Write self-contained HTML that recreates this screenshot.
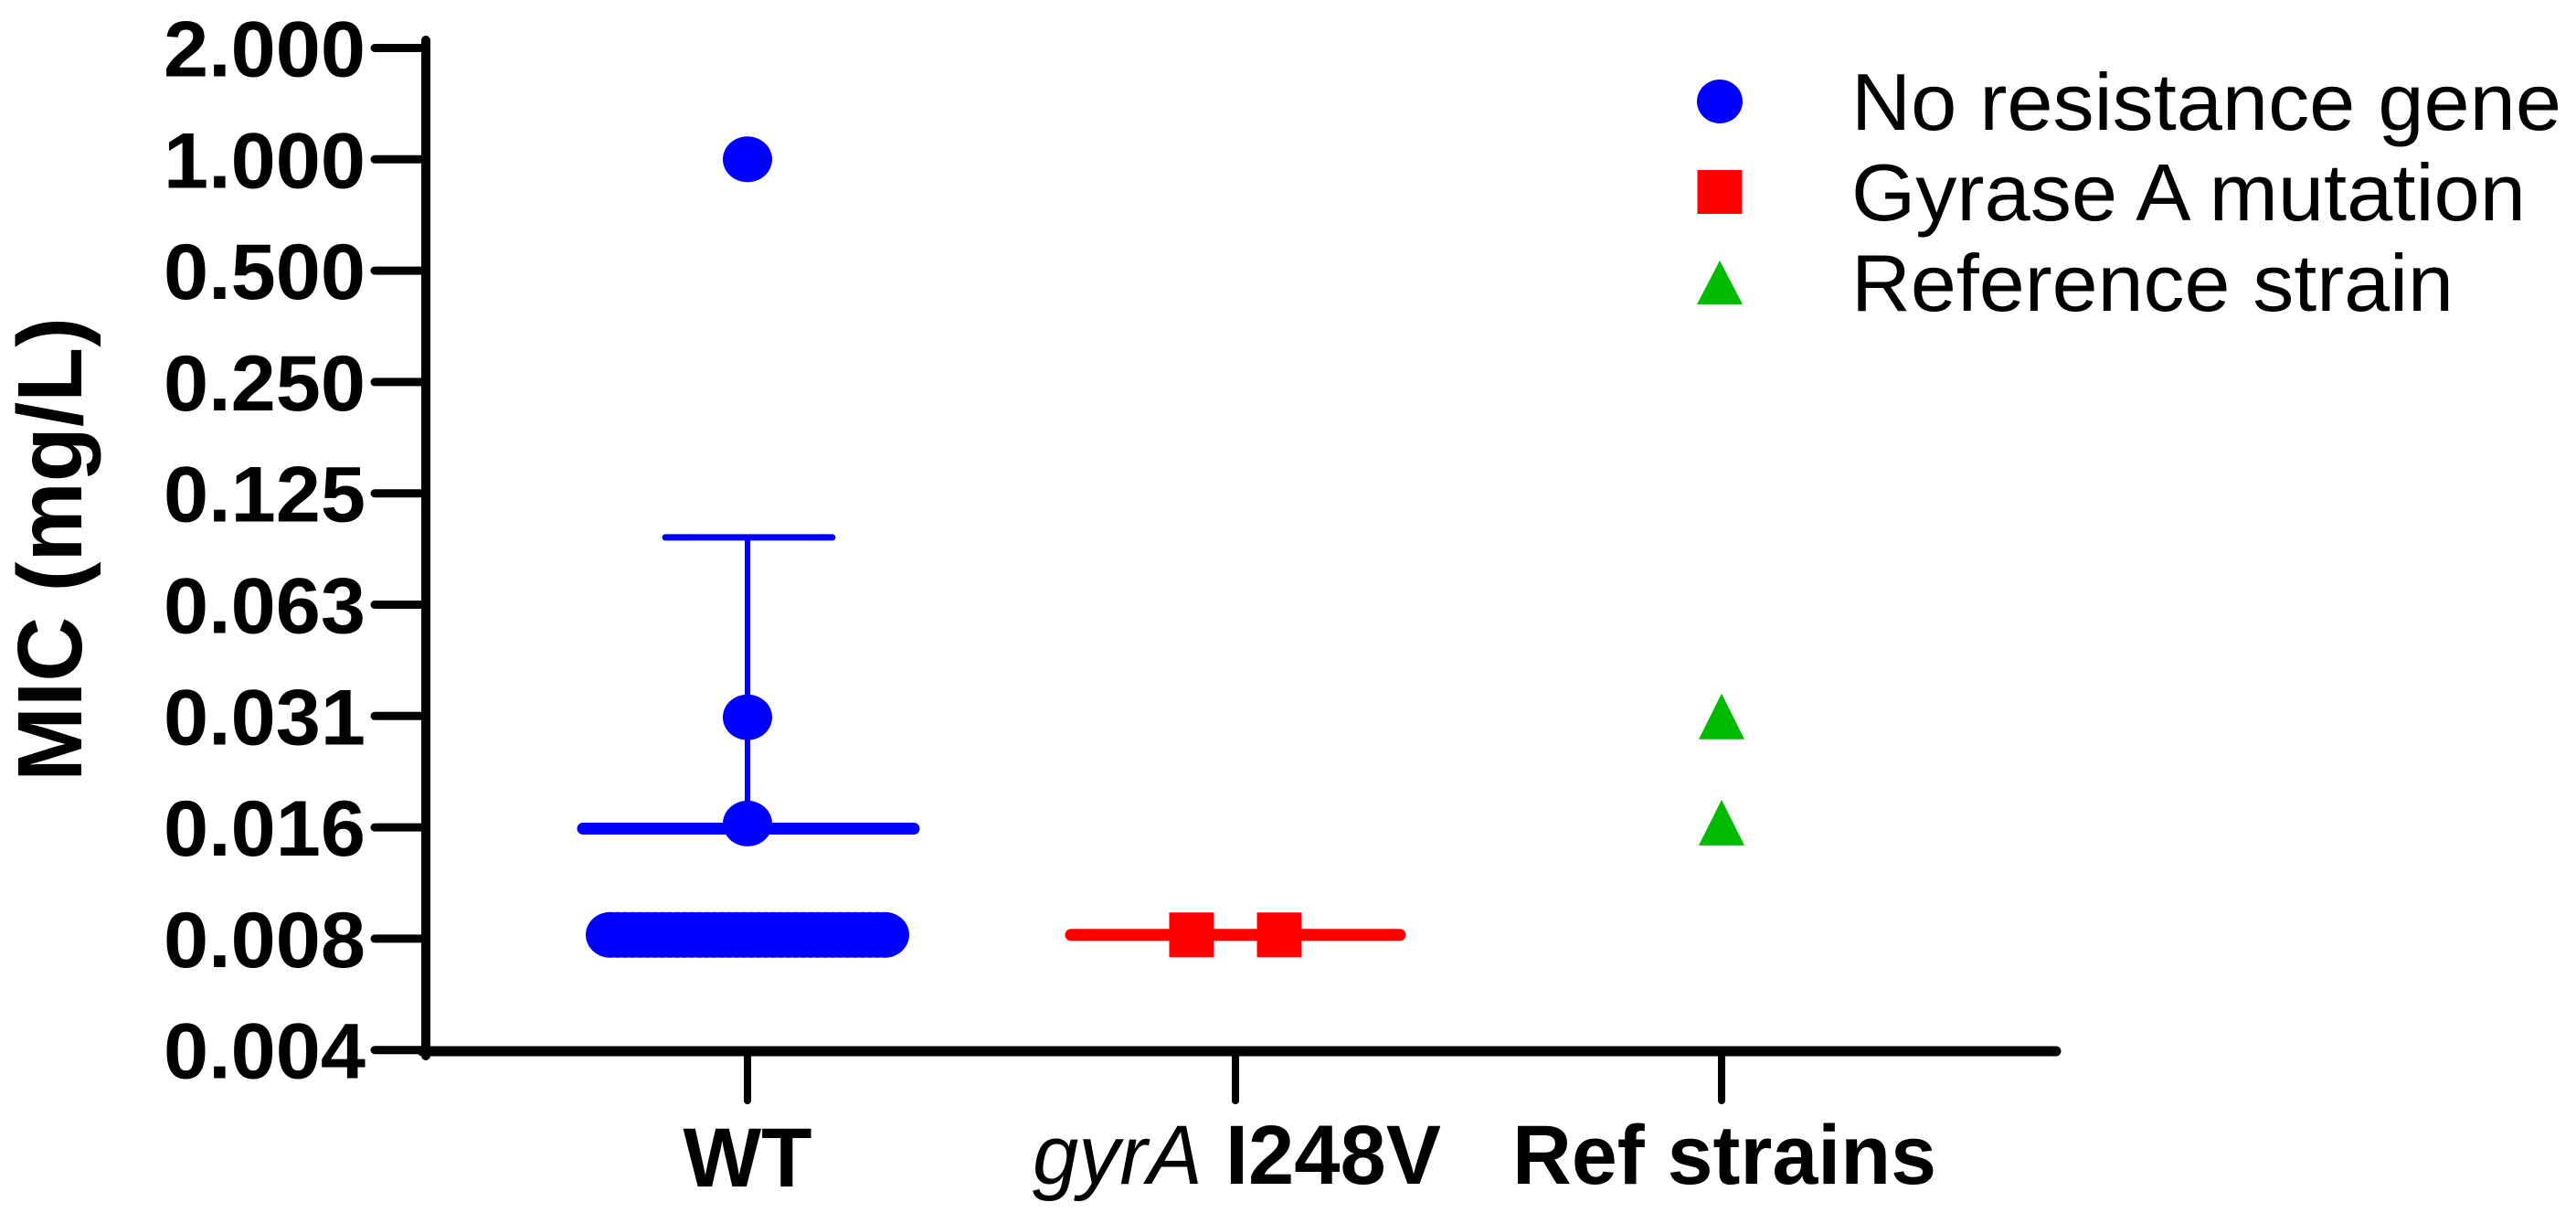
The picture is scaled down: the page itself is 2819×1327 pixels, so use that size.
<!DOCTYPE html>
<html><head><meta charset="utf-8"><style>
html,body{margin:0;padding:0;background:#fff;}
svg{display:block;font-family:"Liberation Sans",Arial,sans-serif;}
</style></head><body>
<svg id="chart" width="2819" height="1327" viewBox="0 0 2819 1327" xmlns="http://www.w3.org/2000/svg">
<g id="axes"></g>
<g id="marks"></g>
<g id="legend"></g>
</svg>
<script>
const tickValues = [2, 1, 0.5, 0.25, 0.125, 0.0625, 0.03125, 0.015625, 0.0078125, 0.00390625];
const tickLabels = ["2.000","1.000","0.500","0.250","0.125","0.063","0.031","0.016","0.008","0.004"];
const categories = ["WT", "gyrA I248V", "Ref strains"];
const wtValues = [1, 0.031, 0.016,
  0.008,0.008,0.008,0.008,0.008,0.008,0.008,0.008,0.008,0.008,
  0.008,0.008,0.008,0.008,0.008,0.008,0.008,0.008,0.008,0.008,
  0.008,0.008,0.008,0.008,0.008,0.008,0.008,0.008,0.008,0.008,
  0.008,0.008,0.008,0.008,0.008,0.008,0.008,0.008];
const wtMean = [0.0155];
const wtUpper = [0.095];
const gyrValues = [0.008, 0.008];
const gyrMean = [0.008];
const refValues = [0.031, 0.016];

const NS = "http://www.w3.org/2000/svg";
const Y0 = 52.5, STEP = 121.8;
function y(v){ return Y0 + (Math.log2(2) - Math.log2(v)) * STEP; }
const catX = [818, 1352, 1884];
function x(i){ return catX[i]; }
function mk(tag, attrs, parent){ const e=document.createElementNS(NS,tag); for(const k in attrs) e.setAttribute(k,attrs[k]); parent.appendChild(e); return e; }

const axes = document.getElementById('axes');
const marks = document.getElementById('marks');
const legend = document.getElementById('legend');

let yl = mk('line',{x1:466,y1:44,x2:466,y2:1155,stroke:'#000','stroke-width':10,'stroke-linecap':'round'},axes);
 
let xl = mk('line',{x1:462,y1:1150,x2:2250,y2:1150,stroke:'#000','stroke-width':11,'stroke-linecap':'round'},axes);
 
tickValues.forEach((v,i)=>{
  const t = mk('line',{x1:410,y1:y(v),x2:466,y2:y(v),stroke:'#000','stroke-width':9,'stroke-linecap':'round'},axes);
   
  const l = mk('text',{x:400,y:y(v)+31,'text-anchor':'end','font-size':86,'font-weight':'bold',textLength:221,lengthAdjust:'spacingAndGlyphs'},axes);
  l.textContent = tickLabels[i];
   
});
const yt = mk('text',{x:0,y:0,'text-anchor':'middle','font-size':100,'font-weight':'bold',transform:'translate(89,601) rotate(-90)',textLength:508,lengthAdjust:'spacingAndGlyphs'},axes);
yt.textContent = 'MIC (mg/L)';
 

categories.forEach((c,i)=>{
  const t = mk('line',{x1:x(i),y1:1150,x2:x(i),y2:1204,stroke:'#000','stroke-width':8,'stroke-linecap':'round'},axes);
   
});
const lab1 = mk('text',{x:818,y:1298,'text-anchor':'middle','font-size':92,'font-weight':'bold',textLength:141,lengthAdjust:'spacingAndGlyphs'},axes);
lab1.textContent = categories[0];
 
const lab2 = mk('text',{x:1130,y:1295,'font-size':92,textLength:447,lengthAdjust:'spacingAndGlyphs'},axes);
const it = mk('tspan',{'font-style':'italic'},lab2); it.textContent='gyrA';
const bd = mk('tspan',{'font-weight':'bold'},lab2); bd.textContent=' I248V';
 
const lab3 = mk('text',{x:1655,y:1295,'font-size':92,'font-weight':'bold',textLength:464,lengthAdjust:'spacingAndGlyphs'},axes);
lab3.textContent = categories[2];
 

const BLUE='#0000ff', RED='#ff0000', GREEN='#00bb00';
const counts = {};
wtValues.forEach(v=>{ counts[v]=(counts[v]||0)+1; });
const seen = {};
wtValues.forEach(v=>{
  const n = counts[v]; const k = (seen[v]=(seen[v]||0)+1)-1;
  const off = n>1 ? -150 + 300*k/(n-1) : 0;
  const c = mk('ellipse',{cx:x(0)+off,cy:y(v),rx:27,ry:25,fill:BLUE},marks);
   
});
let e1 = mk('line',{x1:x(0),y1:y(wtUpper[0]),x2:x(0),y2:y(wtMean[0]),stroke:BLUE,'stroke-width':6},marks);
 
let e2 = mk('line',{x1:x(0)-90,y1:y(wtUpper[0]),x2:x(0)+93,y2:y(wtUpper[0]),stroke:BLUE,'stroke-width':7,'stroke-linecap':'round'},marks);
 
let m1 = mk('line',{x1:x(0)-180,y1:y(wtMean[0]),x2:x(0)+182,y2:y(wtMean[0]),stroke:BLUE,'stroke-width':13,'stroke-linecap':'round'},marks);
 

let m2 = mk('line',{x1:x(1)-180,y1:y(gyrMean[0]),x2:x(1)+180,y2:y(gyrMean[0]),stroke:RED,'stroke-width':13,'stroke-linecap':'round'},marks);
 
gyrValues.forEach((v,k)=>{
  const off = gyrValues.length>1 ? -48 + 96*k/(gyrValues.length-1) : 0;
  const s = mk('rect',{x:x(1)+off-24.5,y:y(v)-24.5,width:49,height:49,fill:RED},marks);
   
});
refValues.forEach(v=>{
  const cx=x(2), cy=y(v);
  const p = mk('polygon',{points:`${cx},${cy-26} ${cx+25},${cy+24} ${cx-25},${cy+24}`,fill:GREEN},marks);
   
});

const lg = [
  {t:'No resistance gene', cy:111, w:777},
  {t:'Gyrase A mutation', cy:210, w:738},
  {t:'Reference strain', cy:309, w:659}
];
let c0 = mk('ellipse',{cx:1882,cy:lg[0].cy,rx:25,ry:24,fill:BLUE},legend);
 
let s0 = mk('rect',{x:1857.5,y:lg[1].cy-24,width:49,height:48,fill:RED},legend);
 
let t0 = mk('polygon',{points:`1882,${lg[2].cy-24} 1907,${lg[2].cy+24} 1857,${lg[2].cy+24}`,fill:GREEN},legend);
 
lg.forEach(r=>{
  const t = mk('text',{x:2026,y:r.cy+31,'font-size':88,textLength:r.w,lengthAdjust:'spacingAndGlyphs'},legend);
  t.textContent = r.t;
   
});
</script>
</body></html>
